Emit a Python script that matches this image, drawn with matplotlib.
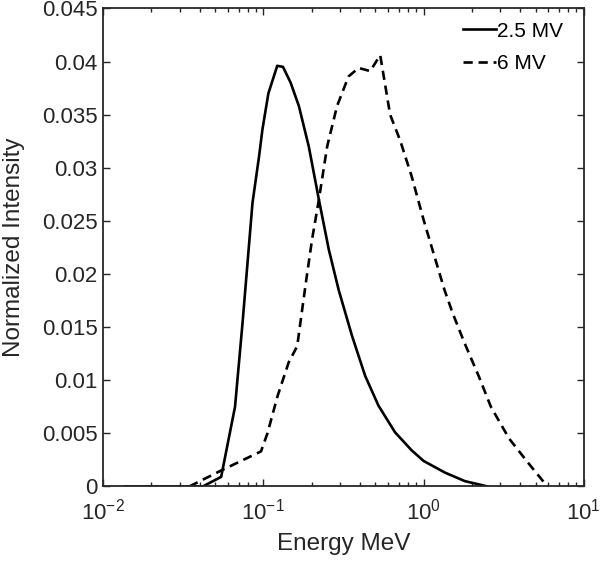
import matplotlib
matplotlib.use("Agg")
import matplotlib.pyplot as plt
from matplotlib.ticker import LogLocator, FixedLocator, FixedFormatter

plt.rcParams['font.family'] = ['Liberation Sans', 'DejaVu Sans']
plt.rcParams['mathtext.fontset'] = 'custom'
plt.rcParams['mathtext.rm'] = 'Liberation Sans'
plt.rcParams['mathtext.it'] = 'Liberation Sans'

# 2.5 MV spectrum
energy_25 = [0.0137, 0.0419, 0.0545, 0.0665, 0.0741, 0.0855, 0.094, 0.0986, 0.1074,
             0.122, 0.1325, 0.148, 0.1666, 0.192, 0.222, 0.256, 0.295, 0.357,
             0.432, 0.523, 0.663, 0.842, 1.0, 1.36, 1.81, 2.5]
intensity_25 = [0, 0, 0.0009, 0.0075, 0.0154, 0.0267, 0.0311, 0.0336, 0.0370,
                0.0396, 0.0395, 0.0380, 0.0358, 0.0320, 0.0270, 0.0223, 0.0185, 0.0142,
                0.0104, 0.0076, 0.0051, 0.0034, 0.0024, 0.0013, 0.0005, 0]

# 6 MV spectrum
energy_6 = [0.0345, 0.0545, 0.0966, 0.106, 0.1225, 0.144, 0.1625, 0.183, 0.201,
            0.222, 0.25, 0.288, 0.340, 0.393, 0.464, 0.536, 0.618, 0.713, 0.842,
            1.0, 1.12, 1.35, 1.52, 1.79, 2.22, 2.63, 3.42, 4.45, 5.92]
intensity_6 = [0, 0.0015, 0.0033, 0.0050, 0.0085, 0.0117, 0.0132, 0.0189, 0.0232,
               0.0270, 0.0320, 0.0358, 0.0386, 0.0394, 0.0391, 0.0406, 0.0350, 0.0326, 0.0292,
               0.0251, 0.0226, 0.0185, 0.0163, 0.0136, 0.0103, 0.0075, 0.0045, 0.0023, 0]

y_ticks = [0, 0.005, 0.01, 0.015, 0.02, 0.025, 0.03, 0.035, 0.04, 0.045]
y_labels = ['0', '0.005', '0.01', '0.015', '0.02', '0.025', '0.03', '0.035', '0.04', '0.045']

fig = plt.figure(figsize=(6, 5.63), dpi=100)
ax = fig.add_axes([0.172, 0.136, 0.801, 0.849])

ax.plot(energy_25, intensity_25, color='black', linewidth=1.9, label='2.5 MV')
ax.plot(energy_6, intensity_6, color='black', linewidth=1.9, linestyle='--',
        dashes=(3.5, 2.2), label='6 MV')

ax.set_xscale('log')
ax.set_xlim(1e-2, 1e1)
ax.set_ylim(0, 0.045)
ax.yaxis.set_major_locator(FixedLocator(y_ticks))
ax.yaxis.set_major_formatter(FixedFormatter(y_labels))
ax.xaxis.set_major_locator(LogLocator(base=10, numticks=10))
ax.xaxis.set_minor_locator(LogLocator(base=10, subs=range(2, 10), numticks=10))

axis_color = '#262626'
for s in ax.spines.values():
    s.set_color(axis_color)
    s.set_linewidth(1.3)
ax.tick_params(which='both', direction='in', top=True, right=True, colors=axis_color,
               labelcolor='#262626', labelsize=16)
ax.tick_params(axis='y', which='major', length=5, width=1.0, pad=4)
ax.tick_params(axis='x', which='major', length=5, width=1.0, pad=9)
ax.tick_params(which='minor', length=3, width=1.0)

ax.set_xlabel('Energy MeV', fontsize=17.5, color='#262626', labelpad=6)
ax.set_ylabel('Normalized Intensity', fontsize=17.5, color='#262626', labelpad=12)

ax.legend(loc='upper right', bbox_to_anchor=(0.975, 0.99), frameon=False, fontsize=15,
          handlelength=1.6, handletextpad=0.05, borderaxespad=0.0, labelspacing=0.65)

fig.savefig('out.png', dpi=100)
